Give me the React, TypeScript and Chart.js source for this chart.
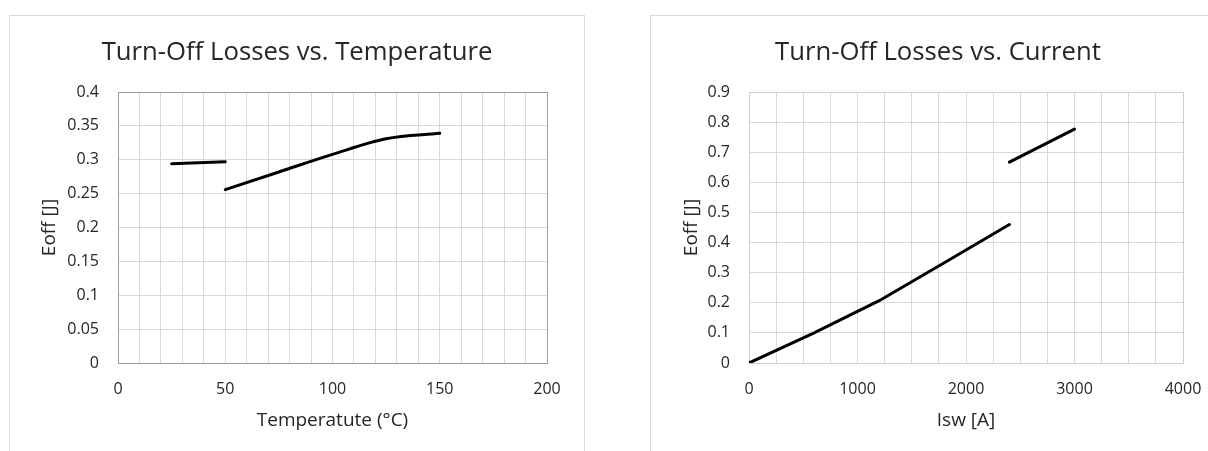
import React, { useEffect, useRef } from 'react';
import { Chart, registerables } from 'chart.js';

Chart.register(...registerables);

// ---- Data ----
const tempLowX = [25, 50];
const tempLowY = [0.294, 0.297];
const tempHighX = [50, 75, 100, 125, 150];
const tempHighY = [0.256, 0.282, 0.308, 0.331, 0.339];

const curLowX = [0, 600, 1200, 1800, 2400];
const curLowY = [0, 0.1, 0.207, 0.333, 0.46];
const curHighX = [2400, 3000];
const curHighY = [0.667, 0.777];

const tempTitle = 'Turn-Off Losses vs. Temperature';
const curTitle = 'Turn-Off Losses vs. Current';
const tempXLabel = 'Temperatute (°C)';
const curXLabel = 'Isw [A]';
const yLabel = 'Eoff [J]';

const FONT = '"Open Sans", "Noto Sans", sans-serif';
const TEXT = '#262626';
const GRID = '#d9d9d9';

function pts(xs: number[], ys: number[]) {
  return xs.map((x, i) => ({ x, y: ys[i] }));
}

type Spec = {
  title: string;
  xLabel: string;
  series: { xs: number[]; ys: number[]; smooth: boolean }[];
  xMax: number;
  xStep: number;
  xLabelEvery: number;
  yMax: number;
  yStep: number;
  yDecimals: number;
  yWidth: number;
  yTitlePad: number;
  rightPad: number;
  borderColor: string;
};

function ChartBox({ spec, left, top }: { spec: Spec; left: number; top: number }) {
  const ref = useRef<HTMLCanvasElement | null>(null);
  useEffect(() => {
    if (!ref.current) return;
    const borderPlugin = {
      id: 'plotBorder',
      beforeDatasetsDraw(chart: any) {
        const { ctx, chartArea } = chart;
        ctx.save();
        ctx.strokeStyle = spec.borderColor;
        ctx.lineWidth = 1;
        ctx.strokeRect(
          Math.round(chartArea.left) + 0.5,
          Math.round(chartArea.top) + 0.5,
          Math.round(chartArea.right - chartArea.left),
          Math.round(chartArea.bottom - chartArea.top)
        );
        ctx.restore();
      },
    };
    const chart = new Chart(ref.current, {
      type: 'scatter',
      data: {
        datasets: spec.series.map((s) => ({
          data: pts(s.xs, s.ys),
          showLine: true,
          borderColor: '#000000',
          backgroundColor: '#000000',
          borderWidth: 3,
          borderCapStyle: 'round',
          pointRadius: 0,
          cubicInterpolationMode: s.smooth ? 'monotone' : 'default',
          tension: 0,
        })) as any,
      },
      options: {
        animation: false,
        responsive: false,
        devicePixelRatio: 1,
        layout: { padding: { left: 0, right: 0, top: 0, bottom: 23 } },
        plugins: {
          legend: { display: false },
          tooltip: { enabled: false },
          title: {
            display: true,
            text: spec.title,
            color: TEXT,
            font: { family: FONT, size: 25.7, weight: 'normal' as any, lineHeight: 1.2 },
            padding: { top: 21.6, bottom: 23.6 },
          },
        },
        scales: {
          x: {
            type: 'linear',
            min: 0,
            max: spec.xMax,
            border: { display: false },
            grid: { color: GRID, lineWidth: 1, drawTicks: false },
            ticks: {
              stepSize: spec.xStep,
              autoSkip: false,
              maxRotation: 0,
              padding: 17,
              color: TEXT,
              font: { family: FONT, size: 16 },
              callback: (v: any) => (Math.abs(v % spec.xLabelEvery) < 1e-9 ? String(v) : ''),
            },
            title: {
              display: true,
              text: spec.xLabel,
              color: TEXT,
              font: { family: FONT, size: 19 },
              padding: { top: 0, bottom: 10.9 },
            },
            afterFit: (s: any) => {
              s.height = 80;
            },
          },
          y: {
            type: 'linear',
            min: 0,
            max: spec.yMax,
            border: { display: false },
            grid: { color: GRID, lineWidth: 1, drawTicks: false },
            ticks: {
              stepSize: spec.yStep,
              padding: 19,
              color: TEXT,
              font: { family: FONT, size: 16 },
              callback: (v: any) => String(Number(Number(v).toFixed(spec.yDecimals))),
            },
            title: {
              display: true,
              text: yLabel,
              color: TEXT,
              font: { family: FONT, size: 19 },
              padding: { top: spec.yTitlePad, bottom: 0 },
            },
            afterFit: (s: any) => {
              s.width = spec.yWidth;
            },
          },
          yRight: {
            type: 'linear',
            position: 'right',
            display: true,
            border: { display: false },
            grid: { display: false, drawTicks: false },
            ticks: { display: false },
            title: { display: false },
            afterFit: (s: any) => {
              s.width = spec.rightPad;
            },
          },
        },
      } as any,
      plugins: [borderPlugin],
    });
    return () => chart.destroy();
  }, [spec]);
  return (
    <div
      style={{
        position: 'absolute',
        left,
        top,
        width: 574,
        height: 450,
        border: '1px solid #d9d9d9',
        background: '#fff',
      }}
    >
      <canvas ref={ref} width={574} height={450} style={{ display: 'block', width: 574, height: 450 }} />
    </div>
  );
}

const tempSpec: Spec = {
  title: tempTitle,
  xLabel: tempXLabel,
  series: [
    { xs: tempLowX, ys: tempLowY, smooth: false },
    { xs: tempHighX, ys: tempHighY, smooth: true },
  ],
  xMax: 200,
  xStep: 10,
  xLabelEvery: 50,
  yMax: 0.4,
  yStep: 0.05,
  yDecimals: 2,
  yWidth: 108,
  yTitlePad: 27.8,
  rightPad: 37,
  borderColor: '#a0a0a0',
};

const curSpec: Spec = {
  title: curTitle,
  xLabel: curXLabel,
  series: [
    { xs: curLowX, ys: curLowY, smooth: false },
    { xs: curHighX, ys: curHighY, smooth: false },
  ],
  xMax: 4000,
  xStep: 250,
  xLabelEvery: 1000,
  yMax: 0.9,
  yStep: 0.1,
  yDecimals: 1,
  yWidth: 98,
  yTitlePad: 29.3,
  rightPad: 42,
  borderColor: '#d0d0d0',
};

export default function App() {
  return (
    <div
      style={{
        position: 'fixed',
        left: 0,
        top: 0,
        width: 1208,
        height: 451,
        overflow: 'hidden',
        background: '#fff',
      }}
    >
      <ChartBox spec={tempSpec} left={9} top={15} />
      <ChartBox spec={curSpec} left={650} top={15} />
    </div>
  );
}
